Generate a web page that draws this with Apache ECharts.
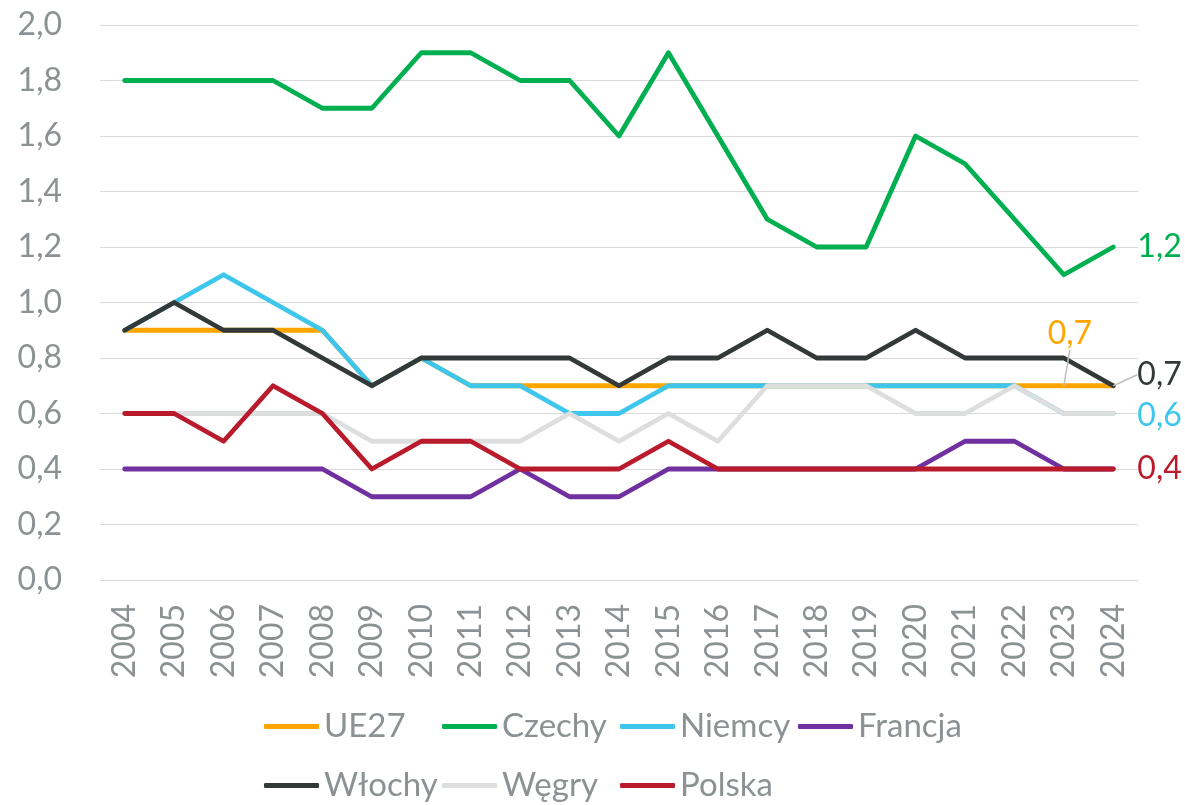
<!DOCTYPE html>
<html>
<head>
<meta charset="utf-8">
<script src="https://cdn.jsdelivr.net/npm/echarts@6/dist/echarts.min.js"></script>
<style>html,body{margin:0;padding:0;background:#fff}#c{width:1185px;height:805px}</style>
</head>
<body>
<div id="c"></div>
<script>
const years = ['2004','2005','2006','2007','2008','2009','2010','2011','2012','2013','2014','2015','2016','2017','2018','2019','2020','2021','2022','2023','2024'];
const ue27    = [0.9,0.9,0.9,0.9,0.9,0.7,0.8,0.7,0.7,0.7,0.7,0.7,0.7,0.7,0.7,0.7,0.7,0.7,0.7,0.7,0.7];
const czechy  = [1.8,1.8,1.8,1.8,1.7,1.7,1.9,1.9,1.8,1.8,1.6,1.9,1.6,1.3,1.2,1.2,1.6,1.5,1.3,1.1,1.2];
const niemcy  = [0.9,1.0,1.1,1.0,0.9,0.7,0.8,0.7,0.7,0.6,0.6,0.7,0.7,0.7,0.7,0.7,0.7,0.7,0.7,0.6,0.6];
const francja = [0.4,0.4,0.4,0.4,0.4,0.3,0.3,0.3,0.4,0.3,0.3,0.4,0.4,0.4,0.4,0.4,0.4,0.5,0.5,0.4,0.4];
const wlochy  = [0.9,1.0,0.9,0.9,0.8,0.7,0.8,0.8,0.8,0.8,0.7,0.8,0.8,0.9,0.8,0.8,0.9,0.8,0.8,0.8,0.7];
const wegry   = [0.6,0.6,0.6,0.6,0.6,0.5,0.5,0.5,0.5,0.6,0.5,0.6,0.5,0.7,0.7,0.7,0.6,0.6,0.7,0.6,0.6];
const polska  = [0.6,0.6,0.5,0.7,0.6,0.4,0.5,0.5,0.4,0.4,0.4,0.5,0.4,0.4,0.4,0.4,0.4,0.4,0.4,0.4,0.4];
const legendRows = [['UE27','Czechy','Niemcy','Francja'], ['Włochy','Węgry','Polska']];

const FONT = 'Lato';
const TXT = '#8c9194';
const fmt = v => v.toFixed(1).replace('.', ',');

function withLabel(arr, idx, color, pos, dist) {
  return arr.map((v, i) => i === idx ? {
    value: v,
    label: { show: true, position: pos, distance: dist, color: color, fontSize: 32, fontFamily: FONT,
      formatter: p => fmt(p.value) }
  } : v);
}

function line(name, data, color, extra) {
  return Object.assign({
    name: name, type: 'line', data: data,
    symbol: 'circle', symbolSize: 0.1, showSymbol: true,
    lineStyle: { width: 4.8, color: color, cap: 'round', join: 'round' },
    itemStyle: { color: color },
    label: { show: false },
    z: 2
  }, extra || {});
}

const legends = [];
legendRows.forEach((row, r) => {
  row.forEach((name, c) => {
    legends.push({
      data: [name], left: 264 + c * 178, top: 710 + r * 59, padding: 0,
      itemWidth: 55, itemHeight: 5, itemGap: 0, icon: 'roundRect',
      textStyle: { color: TXT, fontSize: 33, fontFamily: FONT }
    });
  });
});

const chart = echarts.init(document.getElementById('c'), null, { renderer: 'canvas' });
const last = years.length - 1;
chart.setOption({
  animation: false,
  backgroundColor: '#fff',
  grid: { left: 100, right: 47, top: 25, bottom: 225, containLabel: false },
  xAxis: {
    type: 'category', data: years, boundaryGap: true,
    axisLine: { show: true, lineStyle: { color: '#d9d9d9', width: 1 } },
    axisTick: { show: false },
    axisLabel: { rotate: 90, margin: 24, color: TXT, fontSize: 32, fontFamily: FONT, interval: 0 }
  },
  yAxis: {
    type: 'value', min: 0, max: 2, interval: 0.2,
    axisLine: { show: false }, axisTick: { show: false },
    splitLine: { lineStyle: { color: '#d9d9d9', width: 1 } },
    axisLabel: { margin: 38, color: TXT, fontSize: 32, fontFamily: FONT, formatter: v => fmt(v) }
  },
  legend: legends,
  series: [
    line('UE27', withLabel(ue27, last - 1, '#FFA500', 'top', 5), '#FFA500', {
      labelLayout: { dx: 6, dy: -31 },
      labelLine: { show: true, lineStyle: { color: '#bfbfbf', width: 1.5 } }
    }),
    line('Czechy', withLabel(czechy, last, '#00B050', 'right', 24), '#00B050'),
    line('Niemcy', withLabel(niemcy, last, '#3EC6EC', 'right', 24), '#3EC6EC', {
      labelLayout: { dy: 2 }
    }),
    line('Francja', francja, '#7030A0'),
    line('Włochy', withLabel(wlochy, last, '#333838', 'right', 24), '#333838', {
      labelLayout: { dy: -11 },
      labelLine: { show: true, lineStyle: { color: '#bfbfbf', width: 1.5 } }
    }),
    line('Węgry', wegry, '#DDDEDE'),
    line('Polska', withLabel(polska, last, '#B91B2C', 'right', 24), '#B91B2C')
  ]
});
</script>
</body>
</html>
